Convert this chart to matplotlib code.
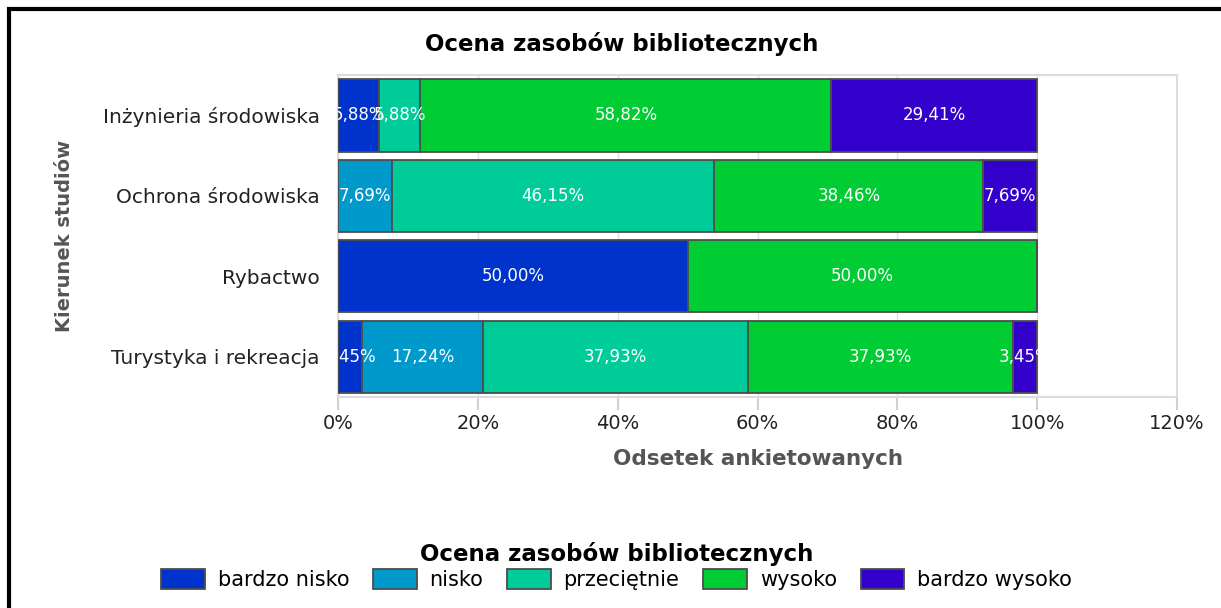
import matplotlib
matplotlib.use("Agg")
import matplotlib.pyplot as plt
import numpy as np
from matplotlib.patches import Rectangle

# data
kierunki = ['Inżynieria środowiska', 'Ochrona środowiska', 'Rybactwo', 'Turystyka i rekreacja']
oceny = ['bardzo nisko', 'nisko', 'przeciętnie', 'wysoko', 'bardzo wysoko']
bardzo_nisko = [5.88, 0.0, 50.00, 3.45]
nisko = [0.0, 7.69, 0.0, 17.24]
przecietnie = [5.88, 46.15, 0.0, 37.93]
wysoko = [58.82, 38.46, 50.00, 37.93]
bardzo_wysoko = [29.41, 7.69, 0.0, 3.45]
kolory = ['#0033cc', '#0099cc', '#00cc99', '#00cc33', '#3300cc']

serie = [bardzo_nisko, nisko, przecietnie, wysoko, bardzo_wysoko]

fig = plt.figure(figsize=(12.21, 6.08), dpi=100)
ax = fig.add_axes([0.2768, 0.347, 0.6872, 0.5296])

y = np.arange(len(kierunki))
left = np.zeros(len(kierunki))
for vals, kolor, nazwa in zip(serie, kolory, oceny):
    vals = np.array(vals)
    ax.barh(y, vals, left=left, height=0.9, color=kolor, edgecolor='#4d4d4d',
            linewidth=1.3, label=nazwa, zorder=3)
    # value labels in the middle of each segment
    for i, v in enumerate(vals):
        if v > 0:
            ax.text(left[i] + v / 2, y[i], ('%.2f%%' % v).replace('.', ','),
                    ha='center', va='center', color='white', fontsize=12,
                    zorder=4, clip_on=True)
    left += vals

ax.set_xlim(0, 120)
ax.set_ylim(3.5, -0.5)
ax.set_xticks(np.arange(0, 121, 20))
ax.set_xticklabels(['%d%%' % t for t in range(0, 121, 20)], fontsize=14, color='#222222')
ax.set_yticks(y)
ax.set_yticklabels(kierunki, fontsize=14.5, color='#222222')
ax.tick_params(axis='x', length=9, width=1.5, color='#d0d0d0', pad=3)
ax.tick_params(axis='y', length=0, pad=13)
ax.grid(axis='x', color='#e0e0e0', linewidth=1, zorder=0)
for s in ax.spines.values():
    s.set_color('#dcdcdc')
    s.set_linewidth(1.5)

ax.set_xlabel('Odsetek ankietowanych', fontsize=15.5, fontweight='bold',
              color='#555555', labelpad=12)
ax.set_ylabel('Kierunek studiów', fontsize=14, fontweight='bold',
              color='#555555', labelpad=21)

fig.text(0.509, 0.928, 'Ocena zasobów bibliotecznych', ha='center', va='center',
         fontsize=16.5, fontweight='bold')

leg = fig.legend(loc='center', bbox_to_anchor=(0.505, 0.069), ncol=5,
                 frameon=False, fontsize=15, handlelength=2.1, handleheight=1.15,
                 handletextpad=0.6, columnspacing=1.15,
                 title='Ocena zasobów bibliotecznych')
leg.get_title().set_fontweight('bold')
leg.get_title().set_fontsize(16.5)
leg._legend_box.sep = 2

# black frame (top and left edges visible)
fig.patches.append(Rectangle((9 / 1221, -0.1), 1.2, 1.1 - 9 / 608, transform=fig.transFigure,
                             fill=False, edgecolor='black', linewidth=3))

fig.savefig('out.png', dpi=100)
